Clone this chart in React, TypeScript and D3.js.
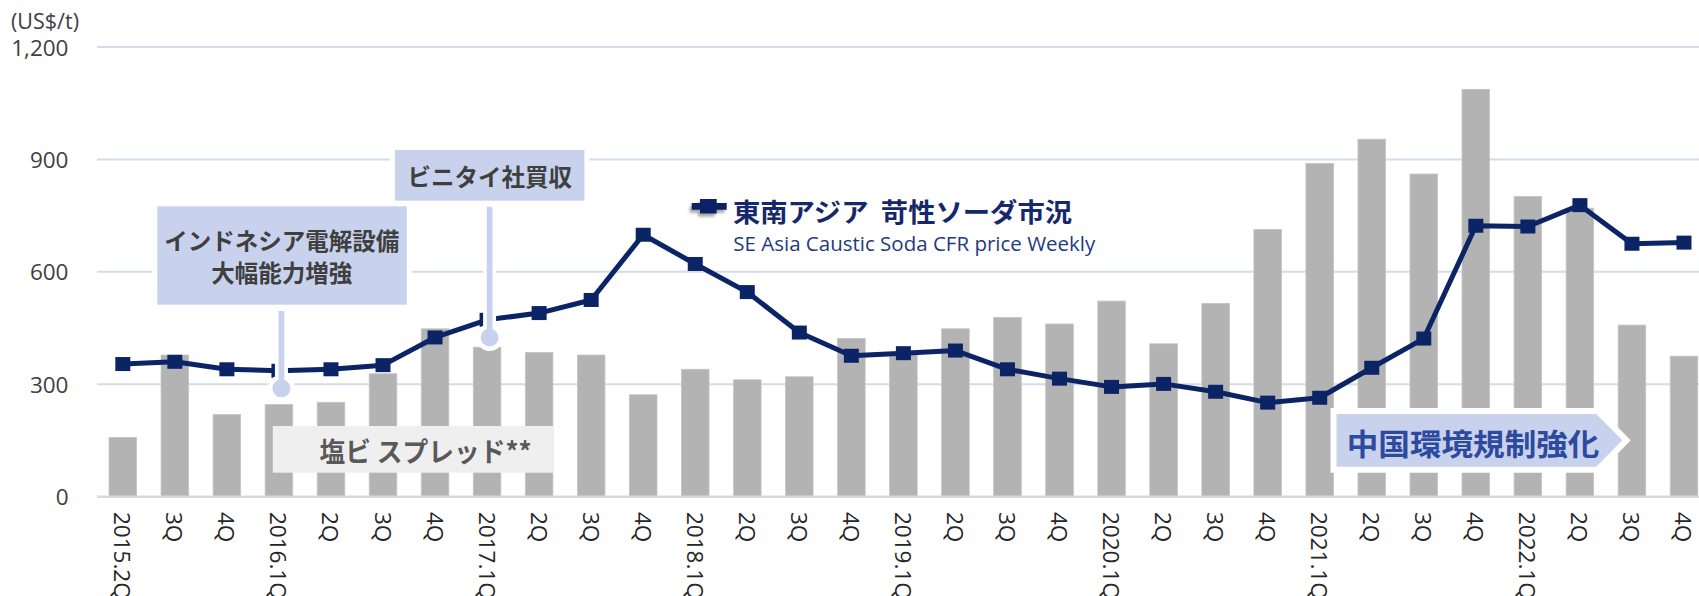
import React from "react";
import * as d3 from "d3";

const quarters = [
  "2015.2Q","2015.3Q","2015.4Q",
  "2016.1Q","2016.2Q","2016.3Q","2016.4Q",
  "2017.1Q","2017.2Q","2017.3Q","2017.4Q",
  "2018.1Q","2018.2Q","2018.3Q","2018.4Q",
  "2019.1Q","2019.2Q","2019.3Q","2019.4Q",
  "2020.1Q","2020.2Q","2020.3Q","2020.4Q",
  "2021.1Q","2021.2Q","2021.3Q","2021.4Q",
  "2022.1Q","2022.2Q","2022.3Q","2022.4Q",
];
const tickLabels = [
  "2015.2Q","3Q","4Q",
  "2016.1Q","2Q","3Q","4Q",
  "2017.1Q","2Q","3Q","4Q",
  "2018.1Q","2Q","3Q","4Q",
  "2019.1Q","2Q","3Q","4Q",
  "2020.1Q","2Q","3Q","4Q",
  "2021.1Q","2Q","3Q","4Q",
  "2022.1Q","2Q","3Q","4Q",
];
// PVC spread** (bars)
const pvcSpread = [
  158, 378, 219,
  246, 252, 328, 448,
  399, 385, 378, 272,
  340, 312, 320, 422,
  380, 448, 478, 461,
  522, 408, 516, 713,
  889, 954, 861, 1087,
  801, 770, 458, 375,
];
// SE Asia Caustic Soda CFR price (line)
const causticSoda = [
  354, 360, 340,
  336, 340, 351, 425,
  472, 490, 525, 699,
  621, 546, 438, 376,
  383, 390, 340, 315,
  293, 301, 280, 251,
  264, 344, 422, 723,
  721, 778, 675, 678,
];
const yTicks = [0, 300, 600, 900, 1200];

const W = 1699;
const H = 596;
const NAVY = "#0b2466";
const CALLOUT = "#c8d2ed";

export default function App() {
  const x = d3
    .scaleBand<string>()
    .domain(quarters)
    .range([96.8, 1710])
    .paddingInner(0.47)
    .paddingOuter(0.235);
  const y = d3.scaleLinear().domain([0, 1200]).range([496.7, 47]);
  const bw = x.bandwidth();
  const cx = (q: string) => (x(q) as number) + bw / 2;

  const line = d3
    .line<number>()
    .x((_, i) => cx(quarters[i]))
    .y((d) => y(d));

  const latin = "'Open Sans', 'Noto Sans', sans-serif";
  const cjk = "'Noto Sans CJK JP', 'Noto Sans', sans-serif";

  const c1x = cx("2016.1Q") + 2.5;
  const c2x = cx("2017.1Q") + 2.5;

  // pentagon
  const px0 = 1336.5, px1 = 1596.3, pxTip = 1622.3, py0 = 414, py1 = 466.7;
  const pent = `M${px0},${py0} L${px1},${py0} L${pxTip},${(py0 + py1) / 2} L${px1},${py1} L${px0},${py1} Z`;

  return (
    <svg
      width={W}
      height={H}
      style={{ position: "absolute", left: 0, top: 0, background: "#fff" }}
    >
      <defs>
        <filter id="sh" x="-50%" y="-50%" width="200%" height="200%">
          <feDropShadow dx="-2" dy="3" stdDeviation="1.6" floodColor="#000" floodOpacity="0.35" />
        </filter>
      </defs>
      <rect x={0} y={0} width={W} height={H} fill="#fff" />

      {/* gridlines */}
      {yTicks.filter((t) => t > 0).map((t) => (
        <line key={t} x1={97} x2={W} y1={y(t)} y2={y(t)} stroke="#d3dcea" strokeWidth={2} />
      ))}

      {/* bars */}
      {quarters.map((q, i) => (
        <rect
          key={q}
          x={x(q)}
          y={y(pvcSpread[i])}
          width={bw}
          height={y(0) - y(pvcSpread[i])}
          fill="#b3b3b3"
          stroke="#c4c4c4"
          strokeWidth={0.8}
        />
      ))}
      {/* baseline */}
      <line x1={97} x2={W} y1={y(0)} y2={y(0)} stroke="#d9d9d9" strokeWidth={2.5} />

      {/* PVC spread label box */}
      <rect x={272.8} y={426} width={280.5} height={46.7} fill="#efefef" />
      <text
        x={319.5}
        y={450}
        dominantBaseline="central"
        fontFamily={cjk}
        fontWeight={700}
        fontSize={27}
        fill="#595959"
        textLength={212}
        lengthAdjust="spacingAndGlyphs"
      >
        塩ビ スプレッド**
      </text>

      {/* caustic soda line */}
      <path d={line(causticSoda) || ""} fill="none" stroke={NAVY} strokeWidth={5} strokeLinejoin="round" />
      {causticSoda.map((v, i) => (
        <rect key={i} x={cx(quarters[i]) - 7.5} y={y(v) - 7} width={15} height={14} fill={NAVY} />
      ))}

      {/* callout 1 */}
      <rect x={157.3 - 5} y={206.3 - 5} width={249.5 + 10} height={98.4 + 10} fill="#fff" />
      <rect x={157.3} y={206.3} width={249.5} height={98.4} fill={CALLOUT} />
      <text x={281.7} y={240} textAnchor="middle" dominantBaseline="central" fontFamily={cjk} fontWeight={700} fontSize={23.5} fill="#3f3f3f">
        インドネシア電解設備
      </text>
      <text x={281.7} y={272} textAnchor="middle" dominantBaseline="central" fontFamily={cjk} fontWeight={700} fontSize={23.5} fill="#3f3f3f">
        大幅能力増強
      </text>
      <line x1={c1x} x2={c1x} y1={311} y2={388} stroke="#fff" strokeWidth={13} />
      <circle cx={c1x} cy={388.3} r={13.5} fill="#fff" />
      <line x1={c1x} x2={c1x} y1={311} y2={388} stroke={CALLOUT} strokeWidth={5.7} />
      <circle cx={c1x} cy={388.3} r={9} fill={CALLOUT} />

      {/* callout 2 */}
      <rect x={395 - 5} y={150 - 5} width={189.4 + 10} height={50.7 + 10} fill="#fff" />
      <rect x={395} y={150} width={189.4} height={50.7} fill={CALLOUT} />
      <text x={489.7} y={175.5} textAnchor="middle" dominantBaseline="central" fontFamily={cjk} fontWeight={700} fontSize={23.5} fill="#3f3f3f">
        ビニタイ社買収
      </text>
      <line x1={c2x} x2={c2x} y1={206.7} y2={337} stroke="#fff" strokeWidth={13} />
      <circle cx={c2x} cy={337.5} r={13.5} fill="#fff" />
      <line x1={c2x} x2={c2x} y1={206.7} y2={337} stroke={CALLOUT} strokeWidth={5.7} />
      <circle cx={c2x} cy={337.5} r={9} fill={CALLOUT} />

      {/* China regulation arrow */}
      <path d={pent} fill="#fff" stroke="#fff" strokeWidth={12} strokeLinejoin="miter" />
      <path d={pent} fill={CALLOUT} />
      <text
        x={1346.8}
        y={441.7}
        dominantBaseline="central"
        fontFamily={cjk}
        fontWeight={700}
        fontSize={30}
        fill="#2e4a9e"
        textLength={252.6}
        lengthAdjust="spacingAndGlyphs"
      >
        中国環境規制強化
      </text>

      {/* legend */}
      <g filter="url(#sh)">
        <line x1={691.7} x2={726.7} y1={206.3} y2={206.3} stroke={NAVY} strokeWidth={6.7} />
        <rect x={700} y={199} width={16.7} height={14.5} fill={NAVY} />
      </g>
      <text
        x={733}
        y={210}
        dominantBaseline="central"
        fontFamily={cjk}
        fontWeight={700}
        fontSize={26}
        fill="#14286b"
        textLength={339}
        lengthAdjust="spacingAndGlyphs"
        style={{ whiteSpace: "pre" }}
      >
        {"東南アジア  苛性ソーダ市況"}
      </text>
      <text
        x={733.3}
        y={250.7}
        fontFamily={latin}
        fontSize={19.5}
        fill="#1f3a80"
        textLength={362}
        lengthAdjust="spacingAndGlyphs"
      >
        SE Asia Caustic Soda CFR price Weekly
      </text>

      {/* y axis */}
      <text x={11} y={20} dominantBaseline="central" fontFamily={latin} fontSize={21.5} fill="#404040">
        (US$/t)
      </text>
      {yTicks.map((t) => (
        <text
          key={t}
          x={68.5}
          y={y(t)}
          textAnchor="end"
          dominantBaseline="central"
          fontFamily={latin}
          fontSize={22.5}
          fill="#404040"
        >
          {d3.format(",")(t)}
        </text>
      ))}

      {/* x axis labels */}
      {quarters.map((q, i) => (
        <text
          key={q}
          transform={`translate(${cx(q)},${512}) rotate(90)`}
          textAnchor="start"
          dominantBaseline="central"
          fontFamily={latin}
          fontSize={22.5}
          fill="#262626"
        >
          {tickLabels[i]}
        </text>
      ))}
    </svg>
  );
}
